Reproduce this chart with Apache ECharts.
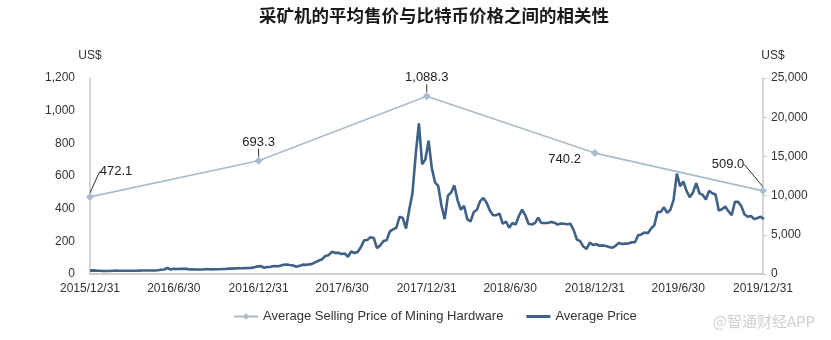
<!DOCTYPE html>
<html><head><meta charset="utf-8">
<script src="https://cdn.jsdelivr.net/npm/echarts@6/dist/echarts.min.js"></script>
<style>html,body{margin:0;padding:0;background:#fff}#c{width:831px;height:340px}</style>
</head><body><div id="c"></div>
<script>
// ---- data ----
const titleText = '采矿机的平均售价与比特币价格之间的相关性';
const xTickLabels = ['2015/12/31','2016/6/30','2016/12/31','2017/6/30','2017/12/31','2018/6/30','2018/12/31','2019/6/30','2019/12/31'];
const hwDates = ['2015/12/31','2016/12/31','2017/12/31','2018/12/31','2019/12/31'];
const hwValues = [472.1, 693.3, 1088.3, 740.2, 509.0];
const priceStart = '2015/12/31'; // weekly samples from this date
const price2016 = [430,458,430,410,380,390,380,420,425,420,415,418,416,416,420,425,450,450,448,455,440,470,537,580,760,580,670,640,660,665,655,580,590,575,578,575,625,608,595,605,612,637,630,688,690,715,740,735,755,770,780,865,975];
const price2017 = [1000,800,900,915,1010,980,1040,1170,1220,1150,1090,935,1040,1190,1170,1230,1320,1520,1720,1890,2300,2400,2830,2700,2710,2550,2610,2200,2870,2680,2800,3420,4300,4330,4700,4600,3300,3630,4200,4320,5430,5700,5900,7300,7150,5800,8200,10300,15200,19200,14000,14600];
const price2018 = [17000,13500,11700,11200,8700,7000,10000,10400,11300,9400,8200,8700,7000,6700,7900,8200,9300,9700,9100,8100,7500,7500,7700,6400,6700,5900,6500,6300,7400,8200,7500,6400,6300,6500,7200,6500,6500,6500,6650,6550,6300,6450,6400,6350,6400,5600,4400,4200,3500,3200,4000,3700];
const price2019 = [3800,3600,3650,3580,3450,3350,3600,3950,3830,3870,3900,4050,4050,4950,5050,5300,5200,5800,6200,7900,7900,8500,7800,8200,9500,12800,11200,11800,10600,9800,10400,11600,10300,10100,9500,10600,10300,10150,8100,8250,8600,8000,7500,9200,9200,8650,7600,7300,7400,7000,7150,7300,7000];
const leftTicks = {min:0, max:1200, interval:200};
const rightTicks = {min:0, max:25000, interval:5000};

// ---- build ----
const DAY = 86400000;
const toTs = s => { const p = s.split('/'); return Date.UTC(+p[0], +p[1]-1, +p[2]); };
const startTs = toTs(priceStart);
const toDay = s => Math.round((toTs(s)-startTs)/DAY);
const tickDays = xTickLabels.map(toDay);
const allPrices = price2016.concat(price2017, price2018, price2019);
const priceData = allPrices.map((v,i)=>[7*i, v]);
const hwData = hwDates.map((d,i)=>[toDay(d), hwValues[i]]);
const labelOffsets = [[26,-7],[0,0],[0,0],[0,6],[-35,-8]];
const FONT = 'Liberation Sans, Arial, sans-serif';

const chart = echarts.init(document.getElementById('c'));
chart.setOption({
  animation:false,
  title:{text:titleText,left:254,top:2,textStyle:{fontFamily:'Noto Sans CJK SC',fontWeight:'bold',fontSize:17.5,color:'#1a1a1a'}},
  grid:{left:90,right:68,top:78,bottom:66},
  legend:{bottom:12,left:228,itemGap:23,itemWidth:24,itemHeight:8,
    textStyle:{fontFamily:FONT,fontSize:13,color:'#333'},
    data:[{name:'Average Selling Price of Mining Hardware'},{name:'Average Price',icon:'path://M0,0L24,0L24,3L0,3Z'}]},
  xAxis:{type:'value',min:tickDays[0],max:tickDays[tickDays.length-1],
    axisLine:{lineStyle:{color:'#bfbfbf',width:1.5}},axisTick:{show:false},splitLine:{show:false},
    axisLabel:{customValues:tickDays,formatter:v=>{const k=tickDays.indexOf(Math.round(v));return k>=0?xTickLabels[k]:'';},
      color:'#333',fontSize:12,margin:9,fontFamily:FONT,showMinLabel:true,showMaxLabel:true}},
  yAxis:[
    {type:'value',name:'US$',nameGap:16,nameTextStyle:{color:'#333',fontSize:12,fontFamily:FONT,align:'center'},
     min:leftTicks.min,max:leftTicks.max,interval:leftTicks.interval,
     axisLine:{show:true,lineStyle:{color:'#c8c8c8',width:1.5}},axisTick:{show:false},splitLine:{show:false},
     axisLabel:{color:'#333',fontSize:12,margin:15,fontFamily:FONT}},
    {type:'value',name:'US$',nameGap:16,nameTextStyle:{color:'#333',fontSize:12,fontFamily:FONT,align:'center',padding:[0,0,0,20]},
     min:rightTicks.min,max:rightTicks.max,interval:rightTicks.interval,position:'right',
     axisLine:{show:true,lineStyle:{color:'#c8c8c8',width:1.5}},axisTick:{show:true,length:4,lineStyle:{color:'#c8c8c8'}},splitLine:{show:false},
     axisLabel:{color:'#333',fontSize:12,margin:8,fontFamily:FONT}}
  ],
  series:[
    {name:'Average Price',type:'line',yAxisIndex:1,data:priceData,symbol:'none',z:2,
     lineStyle:{color:'#3f6188',width:2.6},itemStyle:{color:'#3f6188'}},
    {name:'Average Selling Price of Mining Hardware',type:'line',yAxisIndex:0,z:3,
     symbol:'diamond',symbolSize:8,
     lineStyle:{color:'#a9bccd',width:1.6},itemStyle:{color:'#a9bccd'},
     label:{show:true,position:'top',distance:8,color:'#222',fontSize:13,fontFamily:FONT,
       formatter:p=>p.value[1].toLocaleString('en-US',{minimumFractionDigits:1,maximumFractionDigits:1})},
     labelLine:{show:true,lineStyle:{color:'#333',width:1}},
     labelLayout:p=>({dx:labelOffsets[p.dataIndex][0],dy:labelOffsets[p.dataIndex][1]}),
     data:hwData.map((d,i)=> i===3 ? {value:d,label:{position:'left',distance:10},labelLine:{show:false}} : d)}
  ],
  graphic:[{type:'text',right:16,bottom:11,style:{text:'@智通财经APP',fill:'#d0d0d0',fontSize:15,fontFamily:'Noto Sans CJK SC'}}]
});
</script></body></html>
